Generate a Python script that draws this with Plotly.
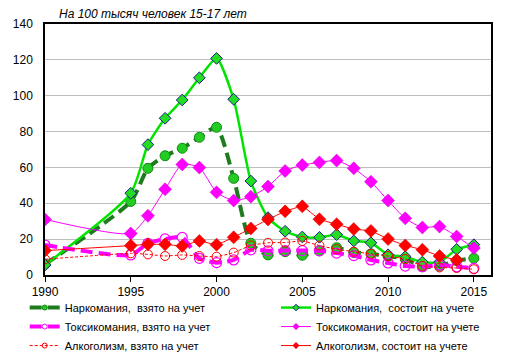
import plotly.graph_objects as go

years = [1990, 1995, 1996, 1997, 1998, 1999, 2000, 2001, 2002, 2003, 2004,
         2005, 2006, 2007, 2008, 2009, 2010, 2011, 2012, 2013, 2014, 2015]

narc_vz = [6, 41, 59.5, 66.5, 70.7, 76.8, 82.4, 53.9, 17.7, 11.2, 13,
           11, 13.5, 15.2, 12.6, 11.8, 10.5, 9, 4.6, 5, 8, 9.3]
narc_sost = [5.6, 45.6, 72.7, 87.4, 97.6, 110, 120.8, 98, 52.4, 32, 24.4,
             21.2, 21, 22.5, 19, 18, 11.3, 10.2, 7.2, 7.2, 14.3, 16.9]
tox_vz = [16.7, 11.2, 17.7, 20.1, 21, 9.3, 6.9, 8.4, 14, 13.5, 13.6,
          13.6, 13.5, 12.2, 10.8, 8.4, 6.7, 5, 4.6, 5.6, 4.6, 3.7]
tox_sost = [31, 23.2, 33, 47.8, 61.7, 59.9, 46.1, 41.5, 43.7, 49.3, 58,
            61.3, 62.8, 63.8, 59.5, 52, 41.5, 31.6, 26.5, 27, 21.5, 15]
alc_vz = [8.8, 12.1, 11.5, 10.6, 11.2, 10.6, 10.2, 12.5, 16.5, 18, 18.1,
          19, 16.4, 14.4, 13, 11.8, 10.6, 8.9, 5.1, 4.2, 3.9, 3.2]
alc_sost = [13.6, 16.4, 17.1, 17.1, 16.2, 19, 16.9, 21, 26, 31, 35.5,
            38.3, 31.1, 28.3, 25.6, 24.6, 20.1, 16.5, 14.1, 10.6, 8.4, None]

names = ["Наркомания,  взято на учет", "Наркомания,  состоит на учете",
         "Токсикомания, взято на учет", "Токсикомания, состоит на учете",
         "Алкоголизм, взято на учет", "Алкоголизм, состоит на учете"]

title_text = "На 100 тысяч человек 15-17 лет"
x_ticks = [1990, 1995, 2000, 2005, 2010, 2015]
y_ticks = [0, 20, 40, 60, 80, 100, 120, 140]

FONT = "Arial, 'Liberation Sans', sans-serif"
DKGREEN = "#1E7B1E"
GREEN = "#00E400"
MAG = "#FF00FF"
RED = "#FF0000"

styles = [
    dict(line=dict(color=DKGREEN, width=4, dash="12px,6px", shape="spline", smoothing=0.6),
         marker=dict(symbol="circle", size=10, color="#22CC22", line=dict(color="#118811", width=1)),
         lmarker=dict(symbol="circle", size=5, color="#22CC22", line=dict(color="#118811", width=1)),
         legend="legend"),
    dict(line=dict(color=GREEN, width=2.5, shape="spline", smoothing=0.6),
         marker=dict(symbol="diamond", size=9, color="#22DD22", line=dict(color="#1A1A8C", width=1)),
         lmarker=dict(symbol="diamond", size=5, color="#22DD22", line=dict(color="#1A1A8C", width=1)),
         legend="legend2"),
    dict(line=dict(color=MAG, width=4, dash="12px,6px", shape="spline", smoothing=0.6),
         marker=dict(symbol="circle-open", size=10, color=MAG, line=dict(color=MAG, width=1.2)),
         lmarker=dict(symbol="circle-open", size=5, color=MAG, line=dict(color=MAG, width=1)),
         legend="legend"),
    dict(line=dict(color=MAG, width=1, shape="spline", smoothing=0.6),
         marker=dict(symbol="diamond", size=10, color=MAG, line=dict(color="#CC00CC", width=0.5)),
         lmarker=dict(symbol="diamond", size=5, color=MAG, line=dict(color="#CC00CC", width=0.5)),
         legend="legend2"),
    dict(line=dict(color=RED, width=1, dash="3px,2px", shape="spline", smoothing=0.4),
         marker=dict(symbol="circle-open", size=9, color=RED, line=dict(color=RED, width=1)),
         lmarker=dict(symbol="circle-open", size=5, color=RED, line=dict(color=RED, width=1)),
         legend="legend"),
    dict(line=dict(color=RED, width=1, shape="spline", smoothing=0.3),
         marker=dict(symbol="diamond", size=10, color=RED, line=dict(color="#DD0000", width=0.5)),
         lmarker=dict(symbol="diamond", size=5, color=RED, line=dict(color="#DD0000", width=0.5)),
         legend="legend2"),
]
series = [narc_vz, narc_sost, tox_vz, tox_sost, alc_vz, alc_sost]

fig = go.Figure()

for name, vals, st in zip(names, series, styles):
    fig.add_trace(go.Scatter(
        x=years, y=vals, name=name, mode="lines+markers", showlegend=False,
        line=st["line"], marker=st["marker"]))

# legend-only entries with small symbols, as in the reference
for name, st in zip(names, styles):
    ln = dict(st["line"])
    ln.pop("shape", None)
    ln.pop("smoothing", None)
    fig.add_trace(go.Scatter(
        x=[None], y=[None], name=name, mode="lines+markers", legend=st["legend"],
        line=ln, marker=st["lmarker"], showlegend=True, hoverinfo="skip"))

fig.add_annotation(
    text=title_text, xref="paper", yref="paper", x=0.027, y=1, xanchor="left",
    yanchor="bottom", yshift=1, showarrow=False,
    font=dict(family=FONT, size=12, color="black", style="italic"))

legend_common = dict(orientation="v", yanchor="top", xanchor="left",
                     bgcolor="rgba(0,0,0,0)", borderwidth=0,
                     font=dict(family=FONT, size=11, color="black"),
                     traceorder="normal", itemsizing="trace")

fig.update_layout(
    width=513, height=354,
    margin=dict(l=45, r=22, t=24, b=79, autoexpand=False),
    paper_bgcolor="white", plot_bgcolor="white",
    font=dict(family=FONT, size=12, color="black"),
    showlegend=True,
    legend=dict(x=-0.0455, y=-0.072, **legend_common),
    legend2=dict(x=0.518, y=-0.072, **legend_common),
    xaxis=dict(range=[1990, 2016], tickvals=x_ticks, ticktext=[str(v) for v in x_ticks],
               ticks="outside", ticklen=5, tickcolor="black", tickwidth=1,
               showgrid=False, zeroline=False, showline=True, linecolor="black",
               linewidth=1.5, mirror=True, tickfont=dict(family=FONT, size=12)),
    yaxis=dict(range=[0, 140], tickvals=y_ticks, showgrid=True, gridcolor="#BEBEBE",
               gridwidth=1, zeroline=False, showline=True, linecolor="black",
               linewidth=1.5, mirror=True, ticks="", ticklabelstandoff=8,
               tickfont=dict(family=FONT, size=12)),
)

fig.write_html("out.html")
